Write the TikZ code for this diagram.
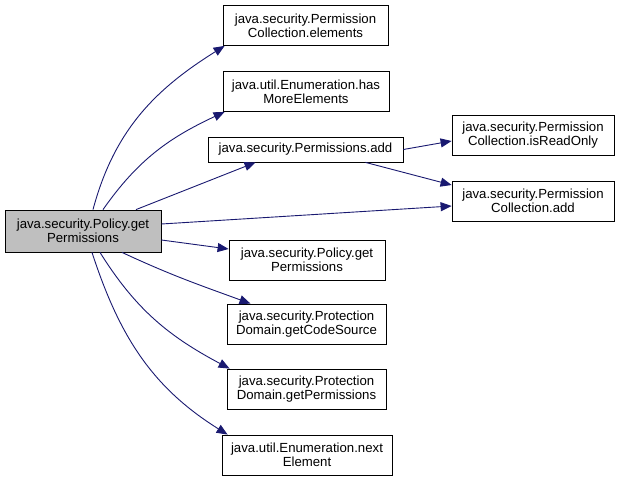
\documentclass[tikz,border=0pt]{standalone}
\usepackage{fontspec}
\setmainfont{Liberation Sans}
\usetikzlibrary{arrows.meta,calc}
\definecolor{EdgeClr}{rgb}{0.098,0.098,0.439}
\definecolor{RootClr}{rgb}{0.75,0.75,0.75}

\begin{document}
\begin{tikzpicture}[x=1pt,y=-1pt,
  fn/.style={draw=black,line width=0.8pt,fill=white,inner sep=0pt,align=center,
    font=\fontsize{13.2}{14}\selectfont,minimum height=40pt},
  call/.style={draw=EdgeClr,line width=0.9pt,-{Triangle[length=11pt,width=9pt]}}]
\useasboundingbox (0,0) rectangle (620,481);

% the caller
\node[fn,fill=RootClr,minimum width=156pt,minimum height=42pt] (root) at (83,231)
  {java.security.Policy.get\\Permissions};

% the callees
\node[fn,minimum width=165pt] (elems) at (305.5,25.5) {java.security.Permission\\Collection.elements};
\node[fn,minimum width=166pt] (hasmore) at (306,91.5) {java.util.Enumeration.has\\MoreElements};
\node[fn,minimum width=195pt,minimum height=25pt] (permadd) at (305.5,149.5) {java.security.Permissions.add};
\node[fn,minimum width=162pt] (readonly) at (533,135) {java.security.Permission\\Collection.isReadOnly};
\node[fn,minimum width=162pt] (colladd) at (533,201) {java.security.Permission\\Collection.add};
\node[fn,minimum width=156pt] (getperm) at (307,260) {java.security.Policy.get\\Permissions};
\node[fn,minimum width=159pt] (codesrc) at (306.5,324) {java.security.Protection\\Domain.getCodeSource};
\node[fn,minimum width=159pt] (domperm) at (306.5,389) {java.security.Protection\\Domain.getPermissions};
\node[fn,minimum width=170pt] (nextel) at (307,455) {java.util.Enumeration.next\\Element};

% calls
\draw[call] ([xshift=10pt]root.north) to[out=75,in=212] ([xshift=2pt]elems.south west);
\draw[call] ([xshift=20pt]root.north) to[out=55,in=205] ([xshift=2pt]hasmore.south west);
\draw[call] ([xshift=53pt]root.north) -- ([xshift=-50pt]permadd.south);
\draw[call] ([yshift=7pt]root.east) -- ([yshift=-5pt]colladd.west);
\draw[call] ([yshift=-9pt]root.east) -- ([yshift=11pt]getperm.west);
\draw[call] ([xshift=39pt]root.south) to[out=-25,in=160] ([xshift=-56pt]codesrc.north);
\draw[call] ([xshift=17pt]root.south) to[out=-58,in=152] ([xshift=3pt]domperm.north west);
\draw[call] ([xshift=9pt]root.south) to[out=-72,in=148] ([xshift=6pt]nextel.north west);
\draw[call] (permadd.east) -- ([yshift=-6pt]readonly.west);
\draw[call] ([xshift=60pt]permadd.south) -- ([yshift=16pt]colladd.west);

\end{tikzpicture}
\end{document}
